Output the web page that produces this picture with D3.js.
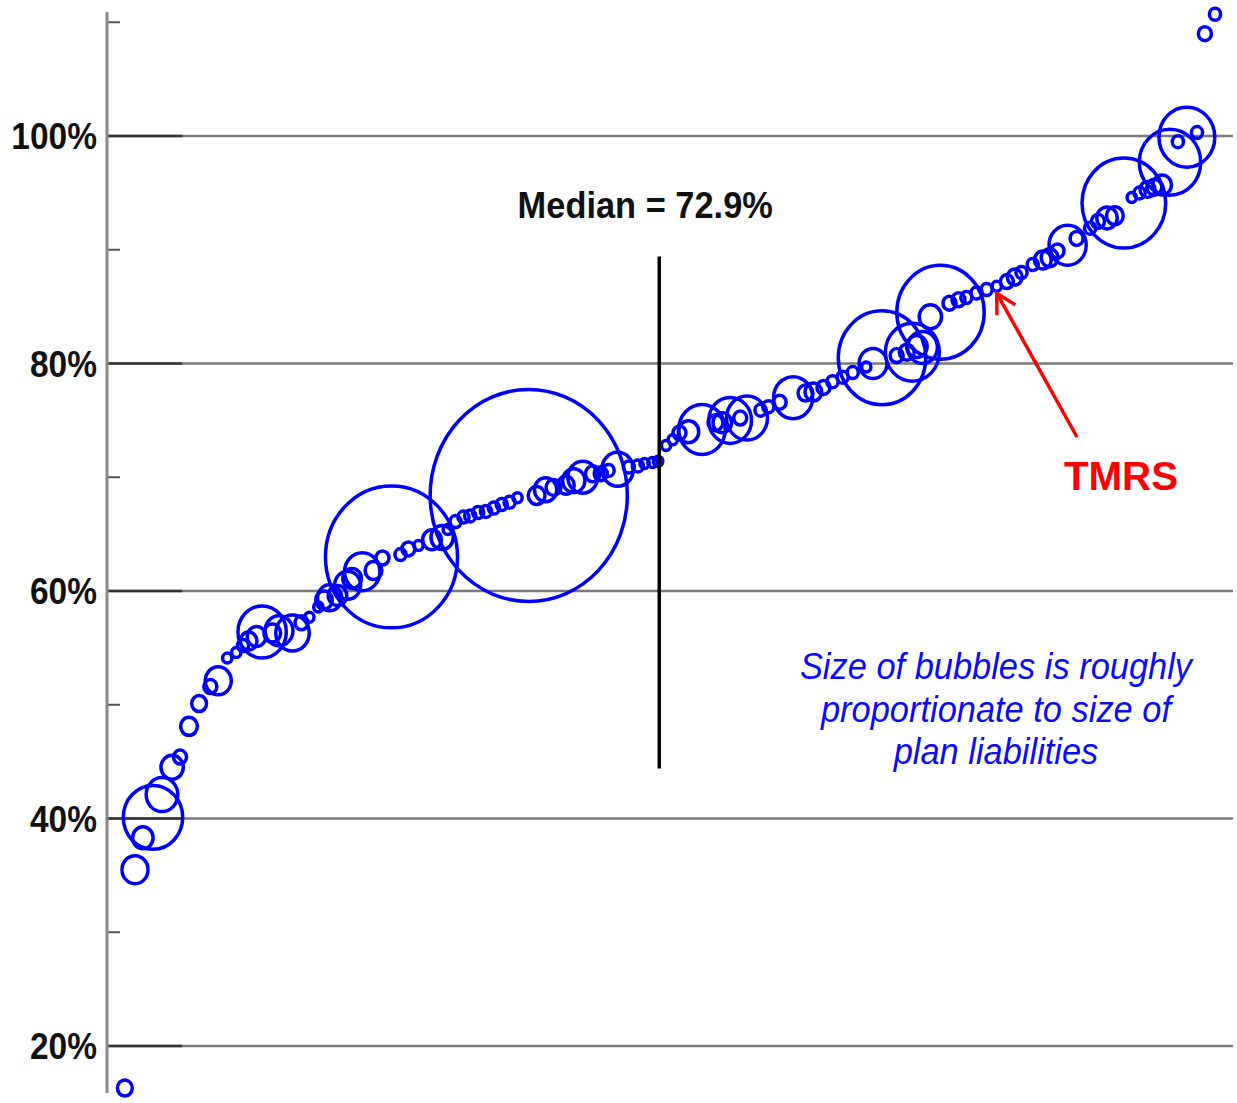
<!DOCTYPE html>
<html>
<head>
<meta charset="utf-8">
<script src="https://cdn.jsdelivr.net/npm/d3@7"></script>
<style>
body { margin: 0; background: #fff; }
text { font-family: "Liberation Sans", Arial, sans-serif; }
</style>
</head>
<body>
<div id="chart"></div>
<script>
// position of each plan along the ranking (percent of the horizontal range)
var rankPos = [1.5, 2.4, 3.1, 4.0, 4.8, 5.7, 6.4, 7.2, 8.1, 9.1,
  9.8, 10.6, 11.4, 12.0, 12.5, 13.2, 13.7, 14.6, 15.2, 16.4,
  17.2, 17.9, 18.7, 19.2, 19.7, 20.4, 21.3, 21.7, 22.6, 23.6,
  24.4, 25.2, 26.0, 26.7, 27.6, 28.8, 29.7, 30.2, 30.9, 31.6,
  32.2, 32.9, 33.6, 34.3, 35.0, 35.7, 36.4, 37.4, 38.1, 38.9,
  39.6, 40.7, 41.4, 42.2, 43.1, 43.8, 44.5, 45.3, 46.3, 47.1,
  47.7, 48.4, 48.9, 49.6, 50.2, 50.8, 51.6, 52.8, 54.0, 54.6,
  55.3, 56.2, 56.8, 58.0, 58.7, 59.7, 60.9, 62.0, 62.7, 63.6,
  64.4, 65.3, 66.2, 67.4, 68.0, 68.8, 70.1, 71.0, 71.5, 71.9,
  72.4, 73.1, 74.0, 74.8, 75.6, 76.3, 77.2, 78.1, 79.0, 79.9,
  80.6, 81.2, 82.2, 83.1, 83.7, 84.4, 85.3, 86.1, 87.3, 88.0,
  88.8, 89.5, 90.3, 91.0, 91.7, 92.4, 93.0, 93.7, 94.4, 95.1,
  95.9, 96.8, 97.5, 98.4];

// funded ratio of each plan (%)
var funded = [16.3, 35.5, 38.3, 40.1, 42.1, 44.5, 45.4, 48.1, 50.1, 51.6,
  52.1, 54.1, 54.6, 55.2, 55.6, 56.0, 56.4, 56.3, 56.5, 56.3,
  57.2, 57.7, 58.6, 59.2, 59.4, 59.6, 60.5, 61.1, 61.7, 61.8,
  62.9, 63.0, 63.2, 63.7, 64.0, 64.5, 64.7, 65.4, 66.1, 66.5,
  66.6, 66.9, 67.0, 67.3, 67.6, 67.8, 68.2, 68.4, 68.4, 68.9,
  69.1, 69.3, 69.7, 70.0, 70.3, 70.3, 70.6, 70.7, 70.9, 71.0,
  71.2, 71.3, 71.4, 72.8, 73.3, 73.9, 74.0, 74.2, 74.8, 74.8,
  75.0, 75.2, 75.2, 75.9, 76.2, 76.6, 77.0, 77.4, 77.5, 77.9,
  78.4, 78.8, 79.2, 79.7, 80.0, 80.5, 80.7, 81.0, 81.0, 81.5,
  81.4, 84.1, 84.5, 85.3, 85.6, 85.8, 86.2, 86.5, 86.8, 87.2,
  87.6, 88.0, 88.7, 89.1, 89.3, 89.9, 90.4, 91.0, 91.9, 92.5,
  92.8, 93.0, 94.1, 94.6, 95.0, 95.3, 95.5, 95.7, 97.7, 99.5,
  99.9, 100.3, 109.0, 110.7];

// relative size of plan liabilities
var liab = [0.64, 1.96, 1.21, 10.2, 2.89, 1.44, 0.49, 0.81, 0.64, 0.49,
  1.96, 0.25, 0.25, 0.36, 0.81, 1.0, 6.76, 0.81, 2.25, 3.24,
  0.49, 0.25, 0.25, 0.81, 1.69, 1.0, 1.96, 1.0, 3.61, 0.81,
  0.49, 50.4, 0.36, 0.49, 0.25, 1.0, 1.44, 0.25, 0.36, 0.36,
  0.36, 0.36, 0.36, 0.36, 0.36, 0.36, 0.25, 112.4, 0.81, 1.44,
  0.64, 0.81, 1.44, 2.56, 0.64, 0.49, 0.36, 2.89, 0.36, 0.36,
  0.25, 0.25, 0.25, 0.25, 0.25, 0.49, 1.21, 6.25, 0.64, 1.0,
  5.29, 0.49, 4.84, 0.36, 0.36, 0.49, 4.41, 0.64, 0.81, 0.49,
  0.36, 0.36, 0.36, 0.25, 2.25, 22.1, 0.49, 0.64, 8.41, 1.21,
  2.56, 1.44, 22.1, 0.49, 0.49, 0.36, 0.36, 0.36, 0.25, 0.49,
  0.64, 0.36, 0.36, 0.81, 0.81, 0.49, 4.0, 0.49, 0.36, 0.49,
  1.21, 0.81, 20.25, 0.25, 0.36, 0.64, 0.64, 1.0, 10.9, 0.36,
  9.0, 0.36, 0.49, 0.36];

var gridTicks = [20, 40, 60, 80, 100];
var minorTicks = [30, 50, 70, 90, 110];
var medianValue = 72.9;
var medianPos = 49.0;
var medianSpan = [89.4, 44.4];
var tmrsIndex = 98;
var noteLines = ["Size of bubbles is roughly", "proportionate to size of", "plan liabilities"];

var w = 1237;
var h = 1103;
var squeeze = 0.93;   // the original picture is slightly narrowed

var x = d3.scaleLinear().domain([0, 100]).range([108, 1233]);
var y = d3.scaleLinear().domain([20, 100]).range([1046, 136]);
var r = d3.scaleSqrt().domain([0, 1]).range([0, 10]);

var svg = d3.select("#chart")
            .append("svg")
            .attr("width", w)
            .attr("height", h);

function narrow(sel) {
  sel.each(function() {
    var len = this.getComputedTextLength();
    d3.select(this)
      .attr("textLength", len * squeeze)
      .attr("lengthAdjust", "spacingAndGlyphs");
  });
}

// grid lines
svg.selectAll(".grid")
    .data(gridTicks)
    .enter()
    .append("line")
    .attr("x1", 108)
    .attr("x2", 1233)
    .attr("y1", function(d) { return y(d); })
    .attr("y2", function(d) { return y(d); })
    .attr("stroke", "#7a7a7a")
    .attr("stroke-width", 2.5);

svg.selectAll(".gridstub")
    .data(gridTicks)
    .enter()
    .append("line")
    .attr("x1", 108)
    .attr("x2", 182)
    .attr("y1", function(d) { return y(d); })
    .attr("y2", function(d) { return y(d); })
    .attr("stroke", "#333")
    .attr("stroke-width", 2.5);

svg.selectAll(".minor")
    .data(minorTicks)
    .enter()
    .append("line")
    .attr("x1", 108)
    .attr("x2", 120)
    .attr("y1", function(d) { return y(d); })
    .attr("y2", function(d) { return y(d); })
    .attr("stroke", "#555")
    .attr("stroke-width", 2);

// y axis line
svg.append("line")
    .attr("x1", 107)
    .attr("x2", 107)
    .attr("y1", 12)
    .attr("y2", 1093)
    .attr("stroke", "#888")
    .attr("stroke-width", 3);

svg.selectAll(".ylab")
    .data(gridTicks)
    .enter()
    .append("text")
    .attr("x", 97)
    .attr("y", function(d) { return y(d) + 13; })
    .attr("text-anchor", "end")
    .attr("font-size", 36)
    .attr("font-weight", "bold")
    .attr("fill", "#111")
    .text(function(d) { return d + "%"; })
    .call(narrow);

// bubbles
var plans = d3.range(funded.length).map(function(i) {
  return {pos: rankPos[i], funded: funded[i], liab: liab[i]};
});

svg.selectAll(".bubble")
    .data(plans)
    .enter()
    .append("ellipse")
    .attr("class", "bubble")
    .attr("cx", function(d) { return x(d.pos); })
    .attr("cy", function(d) { return y(d.funded); })
    .attr("rx", function(d) { return r(d.liab) * squeeze; })
    .attr("ry", function(d) { return r(d.liab); })
    .attr("fill", "none")
    .attr("stroke", "#0000ff")
    .attr("stroke-width", 3.5);

// median
svg.append("line")
    .attr("x1", x(medianPos))
    .attr("x2", x(medianPos))
    .attr("y1", y(medianSpan[0]))
    .attr("y2", y(medianSpan[1]))
    .attr("stroke", "#000")
    .attr("stroke-width", 3.5);

svg.append("text")
    .attr("x", x(medianPos) - 14)
    .attr("y", 218)
    .attr("text-anchor", "middle")
    .attr("font-size", 37)
    .attr("font-weight", "bold")
    .attr("fill", "#111")
    .text("Median = " + medianValue + "%")
    .call(narrow);

// note about bubble size
svg.selectAll(".note")
    .data(noteLines)
    .enter()
    .append("text")
    .attr("x", 996)
    .attr("y", function(d, i) { return 679 + i * 42.5; })
    .attr("text-anchor", "middle")
    .attr("font-size", 37)
    .attr("font-style", "italic")
    .attr("fill", "#0a0aff")
    .text(function(d) { return d; })
    .call(narrow);

// TMRS arrow
var tip = [x(rankPos[tmrsIndex]), y(funded[tmrsIndex]) + 7];
var tail = [1077, 437];
var ang = Math.atan2(tail[1] - tip[1], tail[0] - tip[0]);
var headLen = 22;

svg.append("line")
    .attr("x1", tail[0])
    .attr("y1", tail[1])
    .attr("x2", tip[0])
    .attr("y2", tip[1])
    .attr("stroke", "#ff0000")
    .attr("stroke-width", 3.5);

svg.append("path")
    .attr("d", "M" + (tip[0] + headLen * Math.cos(ang - 0.5)) + "," + (tip[1] + headLen * Math.sin(ang - 0.5)) +
               "L" + tip[0] + "," + tip[1] +
               "L" + (tip[0] + headLen * Math.cos(ang + 0.5)) + "," + (tip[1] + headLen * Math.sin(ang + 0.5)))
    .attr("fill", "none")
    .attr("stroke", "#ff0000")
    .attr("stroke-width", 3.5);

svg.append("text")
    .attr("x", 1121)
    .attr("y", 490)
    .attr("text-anchor", "middle")
    .attr("font-size", 41)
    .attr("font-weight", "bold")
    .attr("fill", "#ff0000")
    .text("TMRS")
    .attr("textLength", 114)
    .attr("lengthAdjust", "spacingAndGlyphs");
</script>
</body>
</html>
